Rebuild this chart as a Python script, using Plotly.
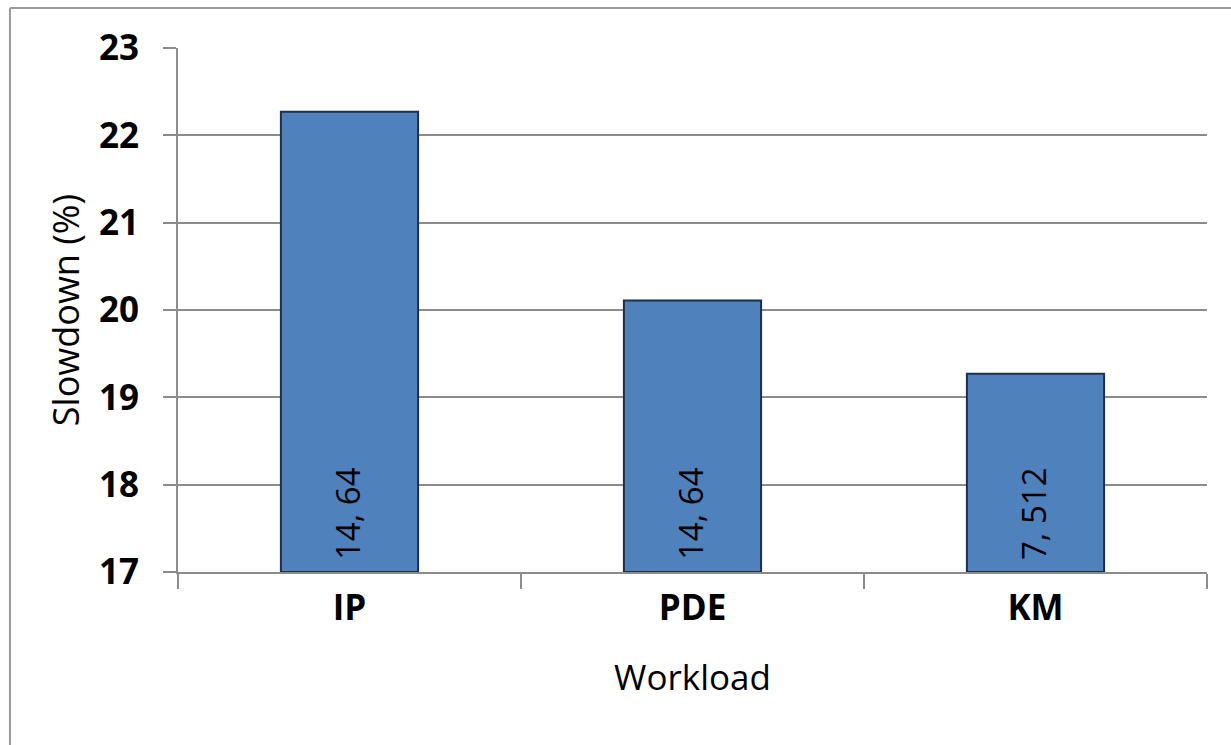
import plotly.graph_objects as go

# Workload slowdown data
workloads = ["IP", "PDE", "KM"]
slowdown_pct = [22.27, 20.11, 19.27]
bar_labels = ["14, 64", "14, 64", "7, 512"]
y_ticks = [17, 18, 19, 20, 21, 22, 23]
y_floor = 17

GRID = "#8c8c8c"
FONT = "Open Sans"

fig = go.Figure(
    go.Bar(
        x=workloads,
        y=[v - y_floor for v in slowdown_pct],
        base=y_floor,
        marker=dict(color="#4f81bd", line=dict(color="#1f2f45", width=2)),
        hoverinfo="skip",
    )
)

# Rotated configuration labels sitting near the base of each bar
for cat, label in zip(workloads, bar_labels):
    fig.add_annotation(
        x=cat, y=y_floor, xref="x", yref="y",
        text=label, textangle=-90, showarrow=False,
        yanchor="bottom", yshift=10, xshift=-2,
        font=dict(family=FONT, size=33, color="black"),
    )

fig.update_layout(
    width=1231,
    height=745,
    margin=dict(l=178, r=24, t=48, b=173),
    paper_bgcolor="white",
    plot_bgcolor="white",
    bargap=0.6,
    showlegend=False,
    font=dict(family=FONT, color="black"),
)

fig.update_xaxes(
    type="category",
    tickson="boundaries",
    ticks="outside",
    ticklen=15,
    tickwidth=2,
    tickcolor=GRID,
    showline=True,
    linecolor=GRID,
    linewidth=2,
    showgrid=False,
    ticklabelstandoff=4,
    tickfont=dict(family=FONT, size=35, color="black", weight="bold"),
    title=dict(text="Workload", font=dict(family=FONT, size=35, color="black"), standoff=36),
)

fig.update_yaxes(
    range=[y_ticks[0], y_ticks[-1]],
    tickvals=y_ticks,
    ticks="outside",
    ticklen=13,
    tickwidth=2,
    tickcolor=GRID,
    showline=True,
    linecolor=GRID,
    linewidth=2,
    showgrid=True,
    gridcolor=GRID,
    gridwidth=2,
    zeroline=False,
    ticklabelstandoff=17,
    tickfont=dict(family=FONT, size=35, color="black", weight="bold"),
    title=dict(text="Slowdown (%)", font=dict(family=FONT, size=36, color="black"), standoff=8),
)

# Outer frame of the chart area (top and left edges)
fig.add_shape(type="line", xref="paper", yref="paper", x0=-0.1633, x1=1.03, y0=1.0763, y1=1.0763,
              line=dict(color="#9a9a9a", width=2))
fig.add_shape(type="line", xref="paper", yref="paper", x0=-0.1633, x1=-0.1633, y0=-0.34, y1=1.0763,
              line=dict(color="#9a9a9a", width=2))

fig.write_html("out.html")
